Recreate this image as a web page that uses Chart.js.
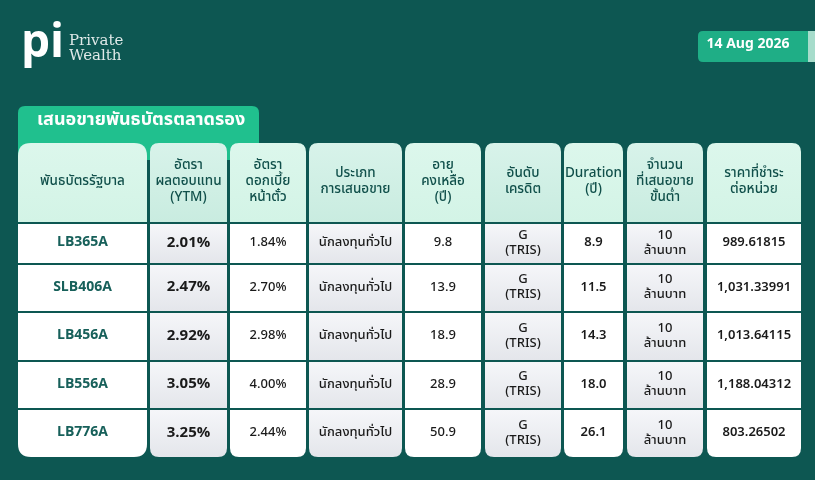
<!DOCTYPE html>
<html><head><meta charset="utf-8">
<script src="https://cdn.jsdelivr.net/npm/chart.js@4.4.1/dist/chart.umd.min.js"></script>
<style>html,body{margin:0;padding:0;background:#0d5752;}#w{width:815px;height:480px;}</style>
</head><body><div id="w"><canvas id="c"></canvas></div>
<script>
const headers = [["พันธบัตรรัฐบาล"],["อัตรา","ผลตอบแทน","(YTM)"],["อัตรา","ดอกเบี้ย","หน้าตั๋ว"],["ประเภท","การเสนอขาย"],["อายุ","คงเหลือ","(ปี)"],["อันดับ","เครดิต"],["Duration","(ปี)"],["จำนวน","ที่เสนอขาย","ขั้นต่ำ"],["ราคาที่ชำระ","ต่อหน่วย"]];
const bonds = ["LB365A","SLB406A","LB456A","LB556A","LB776A"];
const ytm = ["2.01%","2.47%","2.92%","3.05%","3.25%"];
const coupon = ["1.84%","2.70%","2.98%","4.00%","2.44%"];
const offerType = ["นักลงทุนทั่วไป","นักลงทุนทั่วไป","นักลงทุนทั่วไป","นักลงทุนทั่วไป","นักลงทุนทั่วไป"];
const remaining = ["9.8","13.9","18.9","28.9","50.9"];
const rating = [["G","(TRIS)"],["G","(TRIS)"],["G","(TRIS)"],["G","(TRIS)"],["G","(TRIS)"]];
const duration = ["8.9","11.5","14.3","18.0","26.1"];
const minAmount = [["10","ล้านบาท"],["10","ล้านบาท"],["10","ล้านบาท"],["10","ล้านบาท"],["10","ล้านบาท"]];
const price = ["989.61815","1,031.33991","1,013.64115","1,188.04312","803.26502"];
const title = "เสนอขายพันธบัตรตลาดรอง";
const dateLabel = "14 Aug 2026";

// layout (style)
const colX = [[18,147],[150,227],[230,306],[309,402],[405,481],[485,561],[564,623],[627,703],[707,801]];
const headY = [143,222];
const rowY = [[224,263],[265,311],[313,360],[362,408],[410,457]];
const F = "'Noto Sans Thai','Noto Sans','Liberation Sans',sans-serif";

function rr(ctx,x,y,w,h,r){ctx.beginPath();ctx.moveTo(x+r[0],y);ctx.lineTo(x+w-r[1],y);ctx.quadraticCurveTo(x+w,y,x+w,y+r[1]);ctx.lineTo(x+w,y+h-r[2]);ctx.quadraticCurveTo(x+w,y+h,x+w-r[2],y+h);ctx.lineTo(x+r[3],y+h);ctx.quadraticCurveTo(x,y+h,x,y+h-r[3]);ctx.lineTo(x,y+r[0]);ctx.quadraticCurveTo(x,y,x+r[0],y);ctx.closePath();}
function lines(ctx,arr,cx,cy,lh){const n=arr.length;arr.forEach((t,i)=>ctx.fillText(t,cx,cy+(i-(n-1)/2)*lh));}

const tablePlugin = {id:'tbl', afterDraw(chart){
  const ctx=chart.ctx, X=v=>chart.scales.x.getPixelForValue(v), Y=v=>chart.scales.y.getPixelForValue(v);
  ctx.save();
  // logo
  ctx.fillStyle='#fff'; ctx.font="bold 46px "+F; ctx.textAlign='left'; ctx.textBaseline='alphabetic';
  ctx.fillText('pi',X(21),Y(57));
  ctx.font="15px 'DejaVu Serif',serif"; ctx.fillStyle='#dfe9e8';
  ctx.fillText('Private',X(69),Y(45)); ctx.fillText('Wealth',X(69),Y(60));
  // date pill
  ctx.fillStyle='#1fae86'; rr(ctx,X(698),Y(31),X(808)-X(698),Y(62)-Y(31),[5,0,0,5]); ctx.fill();
  ctx.fillStyle='#a6dccb'; ctx.fillRect(X(808),Y(31),X(815)-X(808),Y(62)-Y(31));
  ctx.fillStyle='#fff'; ctx.font="bold 14px "+F; ctx.textAlign='center'; ctx.textBaseline='middle';
  ctx.fillText(dateLabel,X(748),Y(45));
  // title tab
  ctx.fillStyle='#20c08e'; rr(ctx,X(18),Y(106),X(259)-X(18),Y(160)-Y(106),[7,7,0,0]); ctx.fill();
  ctx.fillStyle='#fff'; ctx.font="bold 18px "+F; ctx.textAlign='left';
  ctx.fillText(title,X(37),Y(121));
  // columns
  const cols=[bonds,ytm,coupon,offerType,remaining,rating,duration,minAmount,price];
  colX.forEach((c,ci)=>{
    const x0=X(c[0]),x1=X(c[1]),w=x1-x0, cx=(x0+x1)/2, even=ci%2===1;
    const big=ci===0?13:9;
    rr(ctx,x0,Y(headY[0]),w,Y(rowY[4][1])-Y(headY[0]),[big,big,big,big]);
    ctx.save(); ctx.clip();
    const g=ctx.createLinearGradient(0,Y(headY[0]),0,Y(headY[1]));
    g.addColorStop(0,even?'#d8f3ea':'#dcf7ec'); g.addColorStop(1,even?'#c9ece0':'#d3f4e6');
    ctx.fillStyle=g; ctx.fillRect(x0,Y(headY[0]),w,Y(headY[1])-Y(headY[0]));
    rowY.forEach(r=>{
      if(even){const gg=ctx.createLinearGradient(0,Y(r[0]),0,Y(r[1]));gg.addColorStop(0,'#f5f6f9');gg.addColorStop(1,'#e4e6eb');ctx.fillStyle=gg;}
      else ctx.fillStyle='#ffffff';
      ctx.fillRect(x0,Y(r[0]),w,Y(r[1])-Y(r[0]));
    });
    ctx.restore();
    ctx.fillStyle='#11504b'; ctx.font="500 13.5px "+F; ctx.textAlign='center'; ctx.textBaseline='middle';
    lines(ctx,headers[ci],cx,(Y(headY[0])+Y(headY[1]))/2,16);
    cols[ci].forEach((v,ri)=>{
      const cy=(Y(rowY[ri][0])+Y(rowY[ri][1]))/2;
      if(ci===0){ctx.fillStyle='#17605a';ctx.font="bold 14px "+F;}
      else if(ci===1){ctx.fillStyle='#1a1a1a';ctx.font="bold 15px "+F;}
      else {ctx.fillStyle='#1a1a1a';ctx.font=(ci===6||ci===8?"600 ":"500 ")+"13px "+F;}
      lines(ctx,Array.isArray(v)?v:[v],cx,cy,15);
    });
  });
  ctx.restore();
}};

new Chart(document.getElementById('c'),{
  type:'scatter',
  data:{datasets:[{data:[],pointRadius:0}]},
  options:{responsive:true,maintainAspectRatio:false,animation:false,
    layout:{padding:0},
    plugins:{legend:{display:false},tooltip:{enabled:false}},
    scales:{x:{type:'linear',min:0,max:815,display:false},y:{type:'linear',min:0,max:480,reverse:true,display:false}}},
  plugins:[tablePlugin]
});
</script></body></html>
